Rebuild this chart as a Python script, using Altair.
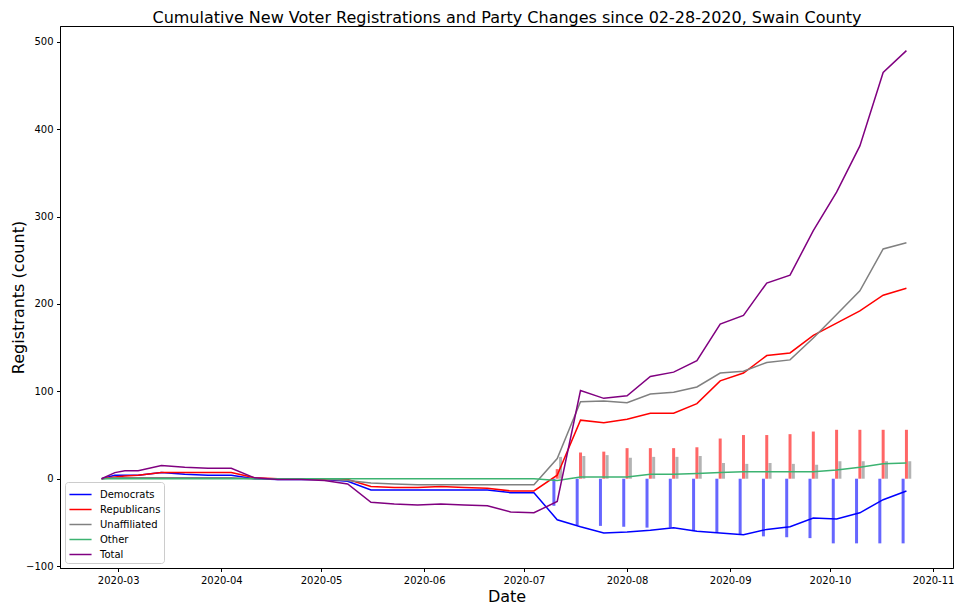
import altair as alt
import pandas as pd

dates = [
    "2020-02-25", "2020-02-29", "2020-03-03", "2020-03-07",
    "2020-03-14", "2020-03-21", "2020-03-28", "2020-04-04",
    "2020-04-11", "2020-04-18", "2020-04-25", "2020-05-02",
    "2020-05-09", "2020-05-16", "2020-05-23", "2020-05-30",
    "2020-06-06", "2020-06-13", "2020-06-20", "2020-06-27",
    "2020-07-04", "2020-07-11", "2020-07-18", "2020-07-25",
    "2020-08-01", "2020-08-08", "2020-08-15", "2020-08-22",
    "2020-08-29", "2020-09-05", "2020-09-12", "2020-09-19",
    "2020-09-26", "2020-10-03", "2020-10-10", "2020-10-17",
    "2020-10-24",
]

democrats = [0, 4, 4, 4, 7, 5, 4, 4, 0, -1, -1, -1, -3, -13, -13, -13,
             -13, -13, -13, -16, -16, -47, -55, -62, -61, -59, -56, -60,
             -62, -64, -58, -55, -45, -46, -39, -24, -14]
republicans = [0, 2, 3, 4, 7, 7, 7, 7, 1, 0, 0, -1, -1, -9, -10, -10,
               -9, -10, -11, -14, -14, 4, 67, 64, 68, 75, 75, 86,
               112, 121, 141, 144, 164, 178, 192, 210, 218]
unaffiliated = [0, 1, 1, 1, 1, 1, 1, 1, 0, 0, 0, 0, -2, -5, -6, -7,
                -7, -7, -7, -7, -7, 23, 88, 89, 87, 97, 99, 105,
                121, 123, 133, 136, 161, 188, 215, 263, 270]
other = [0, 0, 0, 0, 0, 0, 0, 0, 0, 0, 0, 0, 0, 0, 0, 0,
         0, 0, 0, 0, 0, -2, 2, 2, 2, 5, 5, 6,
         7, 8, 8, 8, 8, 10, 13, 17, 18]
total = [0, 7, 9, 9, 15, 13, 12, 12, 1, -1, -1, -2, -6, -27, -29, -30,
         -29, -30, -31, -38, -39, -26, 101, 92, 95, 117, 122, 135,
         177, 187, 224, 233, 284, 328, 381, 465, 490]

bar_dates = dates[21:]
bar_democrats = [-31, -53, -54, -55, -56, -56, -60, -62, -64, -66, -67, -68, -74, -74, -74, -74]
bar_republicans = [11, 30, 31, 35, 35, 35, 36, 46, 50, 50, 51, 54, 56, 56, 56, 56]
bar_unaffiliated = [25, 26, 27, 24, 25, 25, 26, 18, 17, 18, 17, 16, 20, 20, 20, 20]

series_names = ["Democrats", "Republicans", "Unaffiliated", "Other", "Total"]
series_colors = ["#0000ff", "#ff0000", "#808080", "#3cb371", "#800080"]

title_text = "Cumulative New Voter Registrations and Party Changes since 02-28-2020, Swain County"

# ---- tables ----
rows = []
for name, vals in zip(series_names, [democrats, republicans, unaffiliated, other, total]):
    for d, v in zip(dates, vals):
        rows.append({"date": d, "value": v, "series": name})
lines_df = pd.DataFrame(rows)

brows = []
for name, vals, shift in [("Democrats", bar_democrats, -1),
                          ("Republicans", bar_republicans, 0),
                          ("Unaffiliated", bar_unaffiliated, 1)]:
    for d, v in zip(bar_dates, vals):
        t = pd.Timestamp(d) + pd.Timedelta(days=shift)
        brows.append({"date": t.strftime("%Y-%m-%d"), "value": v, "party": name})
bars_df = pd.DataFrame(brows)

PLOT_W, PLOT_H = 893, 542

x_scale = alt.Scale(domain=[alt.DateTime(year=2020, month=2, date=12, hours=12),
                            alt.DateTime(year=2020, month=11, date=7)])
y_scale = alt.Scale(domain=[-102.2, 518.2], nice=False, zero=False)

x_axis = alt.Axis(values=[alt.DateTime(year=2020, month=m, date=1) for m in range(3, 12)],
                  format="%Y-%m", title="Date", titleY=33.5, titleBaseline="alphabetic",
                  labelFlush=False, labelOverlap=False, orient="bottom")
# top axis carries the chart title (no ticks/labels)
top_axis = alt.Axis(orient="top", title=title_text, titleY=-3.2, titleBaseline="alphabetic",
                    labels=False, ticks=False, domain=False, grid=False)
y_axis = alt.Axis(values=list(range(-100, 600, 100)), title="Registrants (count)",
                  titleX=-37, titleY=PLOT_H / 2, titleBaseline="alphabetic",
                  labelFlush=False, labelOverlap=False)

bars = alt.Chart(bars_df).mark_rule(strokeWidth=3, opacity=0.6).encode(
    x=alt.X("date:T", scale=x_scale, axis=x_axis),
    y=alt.Y("value:Q", scale=y_scale, axis=y_axis),
    y2=alt.datum(0),
    color=alt.Color("party:N",
                    scale=alt.Scale(domain=["Democrats", "Republicans", "Unaffiliated"],
                                    range=["#0000ff", "#ff0000", "#808080"]),
                    legend=None),
)

lines = alt.Chart(lines_df).mark_line(strokeWidth=1.5).encode(
    x=alt.X("date:T", scale=x_scale, axis=top_axis),
    y=alt.Y("value:Q", scale=y_scale, axis=y_axis),
    color=alt.Color("series:N", sort=series_names,
                    scale=alt.Scale(domain=series_names, range=series_colors),
                    legend=alt.Legend(title=None, orient="bottom-left", offset=5,
                                      padding=3, strokeColor="#cccccc",
                                      fillColor="rgba(255,255,255,0.8)",
                                      cornerRadius=3, symbolType="M-1.3,0H1.3",
                                      symbolSize=289, symbolStrokeWidth=1.5,
                                      symbolOffset=3, labelOffset=10,
                                      labelFontSize=10, labelFont="DejaVu Sans",
                                      labelColor="black", rowPadding=0)),
)

chart = alt.layer(bars, lines).resolve_scale(color="independent").resolve_axis(
    x="independent").properties(
    width=PLOT_W, height=PLOT_H,
    padding={"left": 52, "top": 18, "right": 1, "bottom": 40},
    autosize=alt.AutoSizeParams(type="none"),
).configure_view(stroke="black", strokeWidth=1).configure_axis(
    grid=False, domainColor="black", domainWidth=1, tickColor="black",
    tickSize=3.5, tickWidth=1, labelColor="black", labelFont="DejaVu Sans",
    labelFontSize=10, labelPadding=3.5, titleFont="DejaVu Sans",
    titleFontSize=16, titleFontWeight="normal", titleColor="black",
)

chart.save("out.html", embed_options={"renderer": "svg", "actions": False})
